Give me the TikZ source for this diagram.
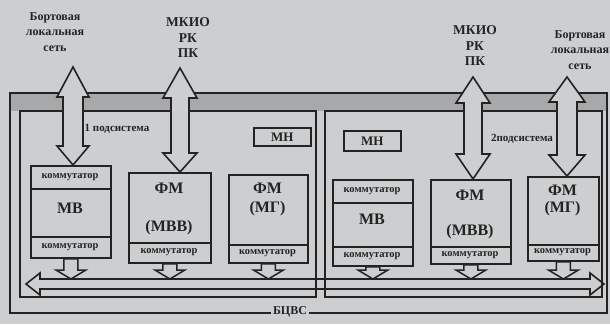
\documentclass[tikz,border=0pt]{standalone}
\usepackage{fontspec}
\setmainfont{Liberation Serif}
\usetikzlibrary{calc}
\definecolor{bgc}{RGB}{204,206,208}
\definecolor{bandc}{RGB}{166,168,170}
\definecolor{ink}{RGB}{35,35,35}

% vertical double-headed block arrow: #1 top tip, #2 bottom (y used), #3 shaft hw, #4 head hw, #5 top head len, #6 bottom head len
\newcommand{\VDArrow}[6]{%
  \draw[barrow] let \p1=(#1), \p2=(#2) in
   (\x1,\y1) -- (\x1+#4,\y1-#5) -- (\x1+#3,\y1-#5) -- (\x1+#3,\y2+#6) -- (\x1+#4,\y2+#6)
   -- (\x1,\y2) -- (\x1-#4,\y2+#6) -- (\x1-#3,\y2+#6) -- (\x1-#3,\y1-#5) -- (\x1-#4,\y1-#5) -- cycle;}
% vertical down block arrow: #1 start, #2 end (y used), #3 shaft hw, #4 head hw, #5 head len
\newcommand{\VDownArrow}[5]{%
  \draw[sarrow] let \p1=(#1), \p2=(#2) in
   (\x1-#3,\y1) -- (\x1+#3,\y1) -- (\x1+#3,\y2+#5) -- (\x1+#4,\y2+#5) -- (\x1,\y2)
   -- (\x1-#4,\y2+#5) -- (\x1-#3,\y2+#5) -- cycle;}
% horizontal double-headed block arrow: #1 left tip, #2 right tip, #3 body hh, #4 head hh, #5 head len
\newcommand{\HDArrow}[5]{%
  \draw[busarrow] let \p1=(#1), \p2=(#2) in
   (\x1,\y1) -- (\x1+#5,\y1+#4) -- (\x1+#5,\y1+#3) -- (\x2-#5,\y1+#3) -- (\x2-#5,\y1+#4)
   -- (\x2,\y1) -- (\x2-#5,\y1-#4) -- (\x2-#5,\y1-#3) -- (\x1+#5,\y1-#3) -- (\x1+#5,\y1-#4) -- cycle;}

\tikzset{
  frame/.style={draw=ink, line width=2.2pt},
  modbox/.style={draw=ink, line width=1.8pt, fill=bgc, inner sep=0pt, anchor=north west},
  divline/.style={draw=ink, line width=1.6pt},
  barrow/.style={draw=ink, line width=1.6pt, fill=bgc, line join=miter},
  sarrow/.style={draw=ink, line width=1.5pt, fill=bgc, line join=miter},
  busarrow/.style={draw=ink, line width=1.6pt, line join=miter},
  komm/.style={inner sep=0pt, text=ink, font=\bfseries\fontsize{10.5}{12}\selectfont},
  bigt/.style={inner sep=0pt, text=ink, font=\bfseries\fontsize{16}{18}\selectfont},
  mnt/.style={inner sep=0pt, text=ink, font=\bfseries\fontsize{13}{15}\selectfont},
  subt/.style={inner sep=0pt, text=ink, font=\bfseries\fontsize{11}{13}\selectfont},
  extA/.style={inner sep=0pt, text=ink, align=center, font=\bfseries\fontsize{12}{15.5}\selectfont},
  extB/.style={inner sep=0pt, text=ink, align=center, font=\bfseries\fontsize{13.5}{15.5}\selectfont},
}

\begin{document}
\begin{tikzpicture}[x=1pt, y=-1pt]
\useasboundingbox (0,0) rectangle (610,324);
\fill[bgc] (0,0) rectangle (610,324);

% top band and outer frame (БЦВС)
\fill[bandc] (10,93) rectangle (607,111);
\draw[frame] (10,93) rectangle (607,313);
\node[inner sep=2pt, fill=bgc, text=ink, font=\bfseries\fontsize{12}{14}\selectfont] (bcvs) at (290,312) {БЦВС};

% subsystem frames
\draw[frame, fill=bgc] (20,111) rectangle (316,297);
\draw[frame, fill=bgc] (325,111) rectangle (602,297);
\node[subt] (sub1) at (117,129) {1 подсистема};
\node[subt] (sub2) at (522,139) {2подсистема};

% ---------- subsystem 1 modules ----------
\node[modbox, minimum width=80pt, minimum height=92pt] (mv1) at (30,165) {};
\draw[divline] (mv1.west |- 0,189) -- (mv1.east |- 0,189);
\draw[divline] (mv1.west |- 0,237) -- (mv1.east |- 0,237);
\node[komm] (mv1k1) at (70,177) {коммутатор};
\node[bigt] (mv1t) at (70,208) {МВ};
\node[komm] (mv1k2) at (70,247) {коммутатор};

\node[modbox, minimum width=82pt, minimum height=90pt] (fa1) at (128,172) {};
\draw[divline] (fa1.west |- 0,243) -- (fa1.east |- 0,243);
\node[bigt] (fa1t1) at (169,188) {ФМ};
\node[bigt] (fa1t2) at (169,228) {(МВВ)};
\node[komm] (fa1k) at (169,252) {коммутатор};

\node[modbox, minimum width=79pt, minimum height=88pt] (fb1) at (228,174) {};
\draw[divline] (fb1.west |- 0,245) -- (fb1.east |- 0,245);
\node[bigt] (fb1t1) at (267.5,188) {ФМ};
\node[bigt] (fb1t2) at (267.5,209) {(МГ)};
\node[komm] (fb1k) at (267.5,253) {коммутатор};

\node[modbox, minimum width=57pt, minimum height=18pt] (mn1) at (253,127) {};
\node[mnt] (mn1t) at (mn1.center) {МН};

% ---------- subsystem 2 modules ----------
\node[modbox, minimum width=80pt, minimum height=86pt] (mv2) at (332,179) {};
\draw[divline] (mv2.west |- 0,203) -- (mv2.east |- 0,203);
\draw[divline] (mv2.west |- 0,247) -- (mv2.east |- 0,247);
\node[komm] (mv2k1) at (372,191) {коммутатор};
\node[bigt] (mv2t) at (372,219) {МВ};
\node[komm] (mv2k2) at (372,256) {коммутатор};

\node[modbox, minimum width=80pt, minimum height=84pt] (fa2) at (430,179) {};
\draw[divline] (fa2.west |- 0,247) -- (fa2.east |- 0,247);
\node[bigt] (fa2t1) at (470,195) {ФМ};
\node[bigt] (fa2t2) at (470,232) {(МВВ)};
\node[komm] (fa2k) at (470,255) {коммутатор};

\node[modbox, minimum width=71pt, minimum height=84pt] (fb2) at (527,176) {};
\draw[divline] (fb2.west |- 0,245) -- (fb2.east |- 0,245);
\node[bigt] (fb2t1) at (562.5,190) {ФМ};
\node[bigt] (fb2t2) at (562.5,209) {(МГ)};
\node[komm] (fb2k) at (562.5,252) {коммутатор};

\node[modbox, minimum width=57pt, minimum height=20pt] (mn2) at (343,130) {};
\node[mnt] (mn2t) at (mn2.center) {МН};

% ---------- bus ----------
\coordinate (busL) at (26,284);
\coordinate (busR) at (604,284);
\coordinate (busTop) at (26,279);
\HDArrow{busL}{busR}{5pt}{11pt}{14pt}

% small arrows from modules to bus
\foreach \m in {mv1,fa1,fb1,mv2,fa2,fb2}{
  \VDownArrow{\m.south}{\m.south |- busTop}{7pt}{15pt}{9pt}
}

% ---------- external connections ----------
\node[extA] (bls1) at (55,32) {Бортовая\\локальная\\сеть};
\node[extB] (mk1) at (188,38) {МКИО\\РК\\ПК};
\node[extB] (mk2) at (475,46) {МКИО\\РК\\ПК};
\node[extA] (bls2) at (580,50) {Бортовая\\локальная\\сеть};

\coordinate (a1) at (73,67);
\coordinate (a2) at (180,68);
\coordinate (a3) at (473,77);
\coordinate (a4) at (567,77);
\VDArrow{a1}{mv1.north}{10pt}{16pt}{30pt}{19pt}
\VDArrow{a2}{fa1.north}{9pt}{17pt}{30pt}{19pt}
\VDArrow{a3}{fa2.north}{9pt}{17pt}{26pt}{25pt}
\VDArrow{a4}{fb2.north}{10pt}{18pt}{25pt}{21pt}
\end{tikzpicture}
\end{document}
